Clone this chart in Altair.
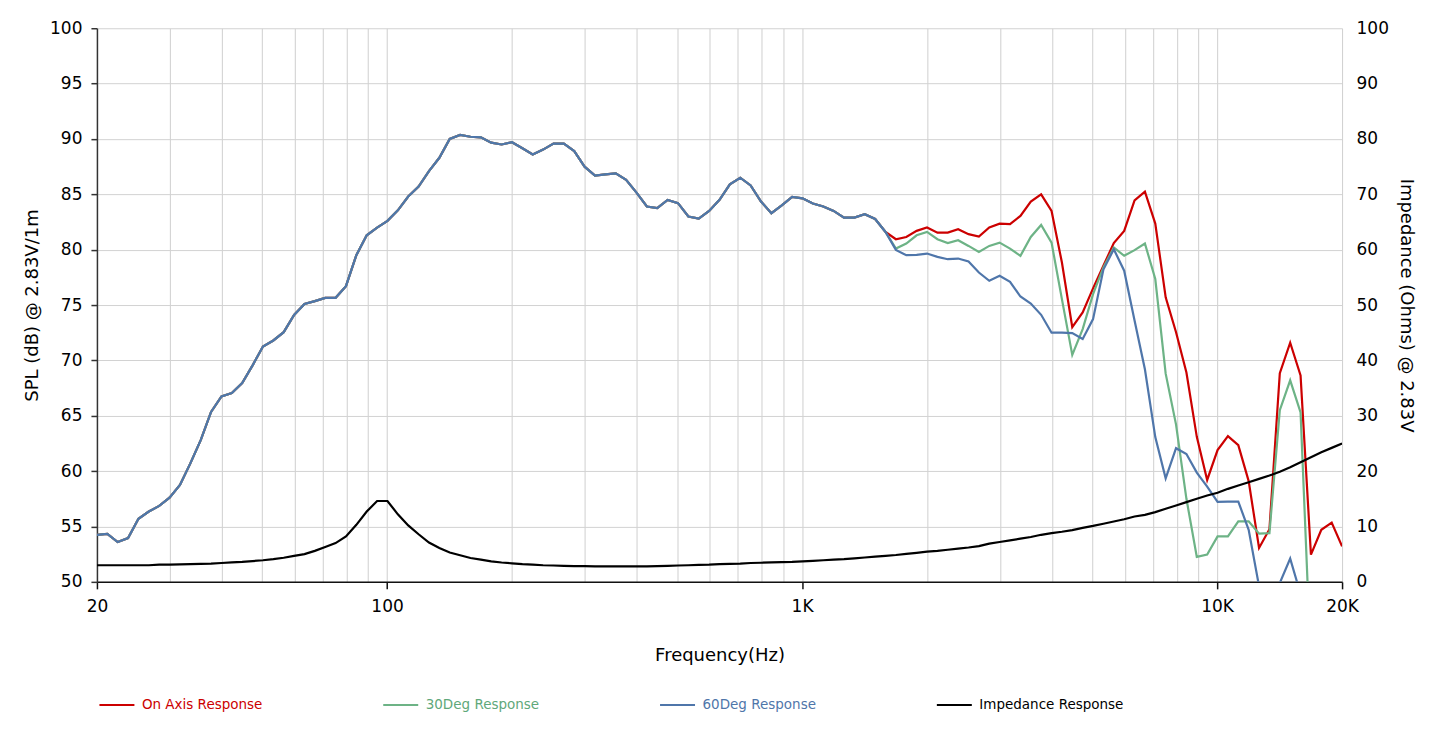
import altair as alt
import pandas as pd

# ---- data (1/40-decade frequency points) ----
FREQ_HZ = [
    20.0, 21.19, 22.44, 23.77, 25.18, 26.67, 28.25, 29.92, 31.70, 33.58,
    35.57, 37.67, 39.91, 42.27, 44.77, 47.43, 50.24, 53.21, 56.37, 59.71,
    63.25, 66.99, 70.96, 75.17, 79.62, 84.34, 89.34, 94.63, 100.24, 106.18,
    112.47, 119.13, 126.19, 133.67, 141.59, 149.98, 158.87, 168.28, 178.25, 188.81,
    200.0, 211.9, 224.4, 237.7, 251.8, 266.7, 282.5, 299.2, 317.0, 335.8,
    355.7, 376.7, 399.1, 422.7, 447.7, 474.3, 502.4, 532.1, 563.7, 597.1,
    632.5, 669.9, 709.6, 751.7, 796.2, 843.4, 893.4, 946.3, 1002.4, 1061.8,
    1124.7, 1191.3, 1261.9, 1336.7, 1415.9, 1499.8, 1588.7, 1682.8, 1782.5, 1888.1,
    2000, 2119, 2244, 2377, 2518, 2667, 2825, 2992, 3170, 3358,
    3557, 3767, 3991, 4227, 4477, 4743, 5024, 5321, 5637, 5971,
    6325, 6699, 7096, 7517, 7962, 8434, 8934, 9463, 10024, 10618,
    11247, 11913, 12619, 13367, 14159, 14998, 15887, 16828, 17825, 18881,
    20000,
]

# SPL shared by all three responses up to ~1.6 kHz
SPL_SHARED = [
    54.25, 54.34, 53.6, 53.95, 55.7, 56.35, 56.86, 57.6, 58.75, 60.7,
    62.8, 65.35, 66.75, 67.05, 67.95, 69.55, 71.25, 71.8, 72.55, 74.1,
    75.1, 75.35, 75.65, 75.65, 76.7, 79.5, 81.3, 82.0, 82.6, 83.55,
    84.8, 85.7, 87.1, 88.3, 90.0, 90.36, 90.2, 90.15, 89.67, 89.5,
    89.7, 89.16, 88.6, 89.04, 89.58, 89.58, 88.9, 87.5, 86.7, 86.8,
    86.9, 86.3, 85.15, 83.9, 83.75, 84.5, 84.2, 83.0, 82.8, 83.5,
    84.5, 85.9, 86.5, 85.8, 84.35, 83.3, 84.0, 84.76, 84.64, 84.17,
    83.9, 83.5, 82.9, 82.9, 83.2, 82.77, 81.6,
]

ON_AXIS_TAIL = [
    80.94, 81.15, 81.7, 82.0, 81.54, 81.54, 81.85, 81.4, 81.18, 82.0,
    82.35, 82.3, 83.05, 84.34, 85.0, 83.5, 78.84, 73.0, 74.33, 76.5,
    78.55, 80.6, 81.7, 84.46, 85.24, 82.36, 75.7, 72.55, 68.9, 63.1,
    59.2, 61.9, 63.16, 62.35, 59.1, 53.06, 54.75, 68.85, 71.6, 68.65,
    52.46, 54.7, 55.35, 53.2,
]

DEG30_TAIL = [
    80.1, 80.55, 81.3, 81.6, 80.94, 80.6, 80.85, 80.34, 79.8, 80.34,
    80.64, 80.1, 79.44, 81.15, 82.23, 80.64, 75.53, 70.5, 72.83, 75.98,
    78.4, 80.2, 79.45, 79.96, 80.56, 77.35, 68.8, 64.2, 57.5, 52.25,
    52.46, 54.1, 54.1, 55.46, 55.46, 54.35, 54.4, 65.5, 68.2, 65.3,
    42.5, 41.0, 40.0, 40.0,
]

DEG60_TAIL = [
    79.98, 79.5, 79.53, 79.65, 79.35, 79.14, 79.2, 78.93, 77.94, 77.19,
    77.64, 77.1, 75.77, 75.14, 74.12, 72.5, 72.5, 72.47, 71.93, 73.73,
    78.2, 80.04, 78.1, 73.6, 69.2, 63.07, 59.35, 62.07, 61.55, 59.87,
    58.6, 57.22, 57.25, 57.25, 54.7, 49.6, 47.0, 49.9, 52.1, 48.9,
    45.0, 44.0, 43.0, 43.0,
]

IMPEDANCE_OHM = [
    3.0, 3.0, 3.0, 3.0, 3.0, 3.0, 3.1, 3.1, 3.15, 3.2,
    3.25, 3.3, 3.4, 3.5, 3.6, 3.75, 3.9, 4.1, 4.35, 4.7,
    5.0, 5.6, 6.3, 7.0, 8.2, 10.3, 12.7, 14.6, 14.6, 12.2,
    10.2, 8.6, 7.1, 6.1, 5.3, 4.8, 4.3, 4.0, 3.7, 3.5,
    3.35, 3.2, 3.1, 3.0, 2.95, 2.9, 2.85, 2.85, 2.8, 2.8,
    2.8, 2.8, 2.8, 2.8, 2.85, 2.9, 2.95, 3.0, 3.05, 3.1,
    3.2, 3.25, 3.3, 3.4, 3.45, 3.5, 3.55, 3.6, 3.7, 3.8,
    3.9, 4.0, 4.1, 4.25, 4.4, 4.55, 4.7, 4.85, 5.05, 5.25,
    5.45, 5.6, 5.8, 6.0, 6.2, 6.45, 6.9, 7.2, 7.5, 7.8,
    8.1, 8.5, 8.8, 9.05, 9.35, 9.75, 10.1, 10.5, 10.9, 11.3,
    11.8, 12.1, 12.6, 13.2, 13.8, 14.4, 15.0, 15.6, 16.1, 16.8,
    17.4, 18.0, 18.6, 19.2, 19.9, 20.7, 21.6, 22.5, 23.4, 24.2,
    25.0,
]

SERIES = ["On Axis Response", "30Deg Response", "60Deg Response", "Impedance Response"]
COLORS = ["#cc0000", "#6db386", "#4f76aa", "#000000"]

X_GRID = [20, 30, 40, 50, 60, 70, 80, 90,
          100, 200, 300, 400, 500, 600, 700, 800, 900,
          1000, 2000, 3000, 4000, 5000, 6000, 7000, 8000, 9000,
          10000, 20000]
X_LABELED = [20, 100, 1000, 10000, 20000]
X_LABEL_TEXT = ["20", "100", "1K", "10K", "20K"]
SPL_TICKS = [50, 55, 60, 65, 70, 75, 80, 85, 90, 95, 100]
IMP_TICKS = [0, 10, 20, 30, 40, 50, 60, 70, 80, 90, 100]

FONT = "DejaVu Sans"

# ---- frames ----
df_on = pd.DataFrame({"freq": FREQ_HZ, "spl": SPL_SHARED + ON_AXIS_TAIL, "series": SERIES[0]})
df_30 = pd.DataFrame({"freq": FREQ_HZ, "spl": SPL_SHARED + DEG30_TAIL, "series": SERIES[1]})
df_60 = pd.DataFrame({"freq": FREQ_HZ, "spl": SPL_SHARED + DEG60_TAIL, "series": SERIES[2]})
df_imp = pd.DataFrame({"freq": FREQ_HZ, "imp": IMPEDANCE_OHM, "series": SERIES[3]})

label_js = "[" + ",".join(str(v) for v in X_LABELED) + "]"
text_js = "[" + ",".join("'" + t + "'" for t in X_LABEL_TEXT) + "]"
label_expr = f"indexof({label_js}, datum.value) >= 0 ? {text_js}[indexof({label_js}, datum.value)] : ''"

x_enc = alt.X(
    "freq:Q",
    scale=alt.Scale(type="log", domain=[20, 20000], nice=False),
    axis=alt.Axis(
        values=X_GRID,
        labelExpr=label_expr,
        labelOverlap=False,
        labelFlush=False,
        title="Frequency(Hz)",
        titleFont=FONT, titleFontSize=18, titleFontWeight="normal", titleColor="#000000",
        titlePadding=32,
        labelFont=FONT, labelFontSize=17, labelColor="#000000", labelPadding=10,
        tickSize=7, tickWidth=1.5, tickColor="#111111",
        tickOpacity={"condition": {"test": f"indexof({label_js}, datum.value) >= 0", "value": 1}, "value": 0},
        domainColor="#111111", domainWidth=1.5,
        grid=True, gridColor="#cfcfcf", gridWidth=1,
    ),
)

color_enc = alt.Color(
    "series:N",
    scale=alt.Scale(domain=SERIES, range=COLORS),
    legend=alt.Legend(
        title=None,
        orient="none",
        legendX=1,
        legendY=658,
        direction="horizontal",
        columns=4,
        columnPadding=116,
        symbolType="stroke",
        symbolSize=1225,
        symbolStrokeWidth=2.2,
        labelFont=FONT,
        labelFontSize=13.5,
        labelOffset=6,
        labelLimit=400,
        padding=0,
        labelColor={"expr": "datum.label == 'On Axis Response' ? '#cc0000' : datum.label == '30Deg Response' ? '#5fa87a' : datum.label == '60Deg Response' ? '#4f76aa' : '#000000'"},
    ),
)

y_spl = alt.Y(
    "spl:Q",
    scale=alt.Scale(domain=[50, 100], nice=False, zero=False),
    axis=alt.Axis(
        orient="left",
        values=SPL_TICKS,
        title="SPL (dB) @ 2.83V/1m",
        titleFont=FONT, titleFontSize=18, titleFontWeight="normal", titleColor="#000000",
        titlePadding=8,
        labelFont=FONT, labelFontSize=17, labelColor="#000000", labelPadding=9,
        tickSize=6, tickWidth=1.5, tickColor="#333333",
        domainColor="#333333", domainWidth=1.5,
        grid=True, gridColor="#d2d2d2", gridWidth=1,
    ),
)

y_imp = alt.Y(
    "imp:Q",
    scale=alt.Scale(domain=[0, 100], nice=False),
    axis=alt.Axis(
        orient="right",
        values=IMP_TICKS,
        title="Impedance (Ohms) @ 2.83V",
        titleFont=FONT, titleFontSize=18, titleFontWeight="normal", titleColor="#000000",
        titlePadding=8,
        labelFont=FONT, labelFontSize=17, labelColor="#000000", labelPadding=14,
        ticks=False, domain=False, grid=False,
    ),
)

line_kw = dict(strokeWidth=2.2, clip=True)

on_layer = alt.Chart(df_on).mark_line(**line_kw).encode(x=x_enc, y=y_spl, color=color_enc)
d30_layer = alt.Chart(df_30).mark_line(**line_kw).encode(x=x_enc, y=y_spl, color=color_enc)
d60_layer = alt.Chart(df_60).mark_line(**line_kw).encode(x=x_enc, y=y_spl, color=color_enc)
spl = alt.layer(on_layer, d30_layer, d60_layer)

imp = alt.Chart(df_imp).mark_line(**line_kw).encode(x=x_enc, y=y_imp, color=color_enc)

chart = (
    alt.layer(spl, imp)
    .resolve_scale(y="independent")
    .properties(
        width=1246,
        height=554,
        autosize=alt.AutoSizeParams(type="none"),
        padding={"left": 89, "top": 20, "right": 90, "bottom": 140},
        background="#ffffff",
    )
    .configure_view(stroke="transparent")
)

chart.save("out.html", embed_options={"renderer": "svg", "actions": False})
